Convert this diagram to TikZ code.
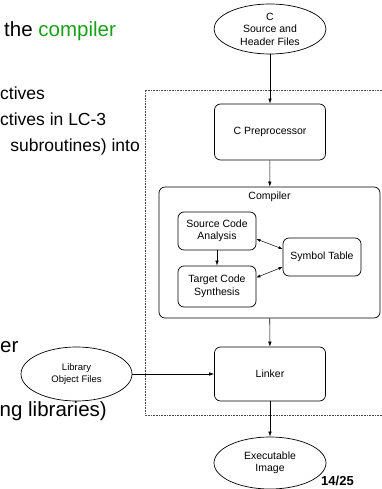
\documentclass[tikz,border=0pt]{standalone}
\usepackage{fontspec}
\setmainfont{Liberation Sans}
\usetikzlibrary{positioning,shapes.geometric,arrows.meta}
\definecolor{kwgreen}{RGB}{25,160,25}

\begin{document}
\begin{tikzpicture}[
			x=1pt, y=-1pt
			,every node/.append style={font=\fontsize{10.5}{12.5}\selectfont, align=center}
			,blk/.style={draw, rounded corners=6pt, line width=.7pt, inner sep=0pt}
			,oval/.style={draw, ellipse, line width=.7pt, inner sep=0pt}
			,big/.style={font=\fontsize{20.5}{24}\selectfont, inner sep=0pt}
			,mid/.style={font=\fontsize{17.5}{21}\selectfont, inner sep=0pt}
			,arr/.style={-{Latex[length=5pt,width=3.5pt]}, line width=.6pt}
			,dbl/.style={{Latex[length=4pt,width=3pt]}-{Latex[length=4pt,width=3pt]}, line width=.5pt}
		]
			\useasboundingbox (0,0) rectangle (381,489);

			% text of the slide behind
			\node [big, anchor=base west] (t1) at (4,37) {the \textcolor{kwgreen}{compiler}};
			\node [mid, anchor=base west] (t2) at (0,100) {ctives};
			\node [mid, anchor=base west] (t3) at (0,126) {ctives in LC-3};
			\node [mid, anchor=base east] (t4) at (140,152) {subroutines) into};
			\node [big, anchor=base west] (t5) at (0,352) {er};
			\node [big, anchor=base east] (t6) at (107,416) {ng libraries)};

			% dotted frame
			\draw [gray!60!black, densely dotted, line width=.6pt] (382,90) -- (145,90) -- (145,415) -- (382,415);

			\node [oval, minimum width=112pt, minimum height=50pt] (src) at (270,29) {C\\Source and\\Header Files};
			\node [blk, minimum width=111pt, minimum height=56pt] (pre) at (270,132) {C Preprocessor};
			\node [blk, minimum width=221pt, minimum height=131pt] (comp) at (269.5,252.5) {};
			\node [below=5pt of comp.north, inner sep=0pt] (complbl) {Compiler};
			\node [blk, minimum width=78pt, minimum height=38pt] (sca) at (217,231) {Source Code\\Analysis};
			\node [blk, minimum width=78pt, minimum height=41pt] (tcs) at (217,286.5) {Target Code\\Synthesis};
			\node [blk, minimum width=78pt, minimum height=38pt] (sym) at (322,257) {Symbol Table};
			\node [blk, minimum width=111pt, minimum height=54pt] (link) at (270,374) {Linker};
			\node [oval, minimum width=111pt, minimum height=54pt, font=\fontsize{9.5}{11.5}\selectfont] (lib) at (76.5,374) {Library\\Object Files};
			\node [oval, minimum width=112pt, minimum height=52pt] (exe) at (270,463) {Executable\\Image};
			\node [anchor=base west, inner sep=0pt, font=\bfseries\fontsize{13}{15}\selectfont] (pg) at (321,485) {14/25};

			\draw [arr] (src) -- (pre);
			\draw [arr] (pre) -- (comp);
			\draw [arr] (comp) -- (link);
			\draw [arr] (link) -- (exe);
			\draw [arr] (lib) -- (link);
			\draw [arr] (sca) -- (tcs);
			\draw [dbl] ([yshift=-8pt]sca.east) -- ([yshift=8pt]sym.west);
			\draw [dbl] ([yshift=9pt]tcs.east) -- ([yshift=-10pt]sym.west);
		\end{tikzpicture}
\end{document}
